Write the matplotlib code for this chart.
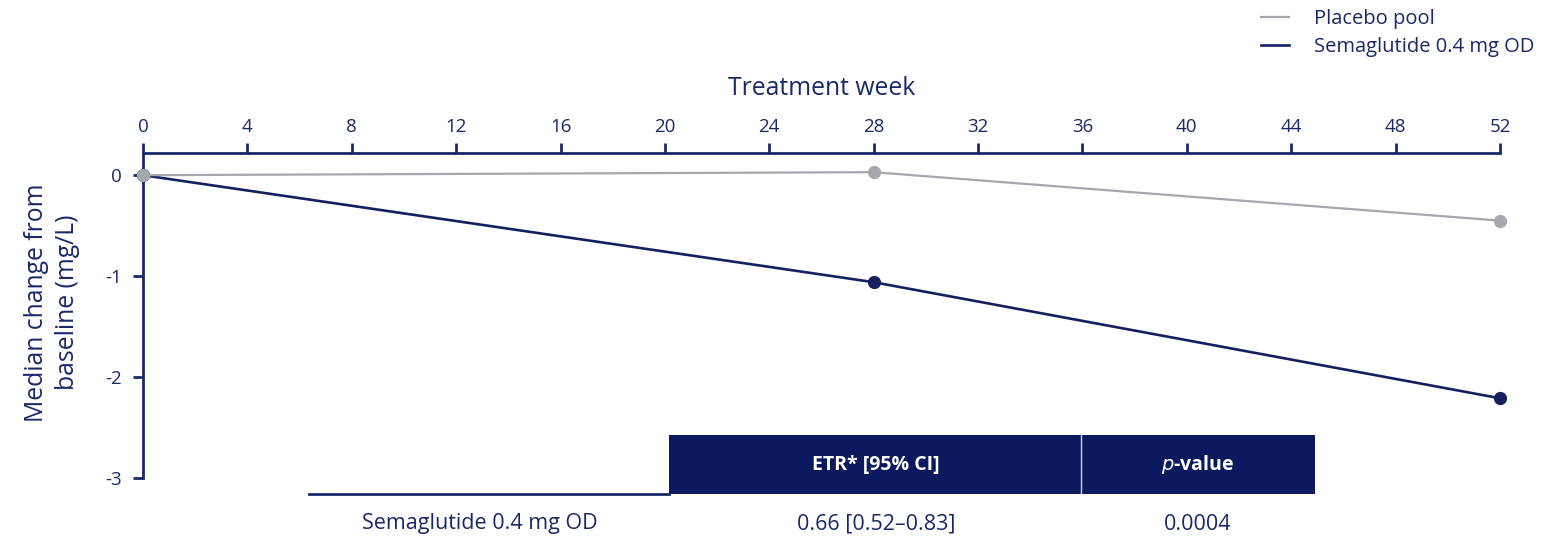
import matplotlib
matplotlib.use("Agg")
import matplotlib.pyplot as plt
from matplotlib.patches import Rectangle
from matplotlib.lines import Line2D

plt.rcParams['font.family'] = ['Open Sans', 'DejaVu Sans']

# Data
weeks = [0, 28, 52]
placebo = [0.0, 0.03, -0.45]
semaglutide = [0.0, -1.06, -2.21]
x_ticks = [0, 4, 8, 12, 16, 20, 24, 28, 32, 36, 40, 44, 48, 52]
y_ticks = [0, -1, -2, -3]
y_tick_labels = ["0", "-1", "-2", "-3"]
series_names = ["Placebo pool", "Semaglutide 0.4 mg OD"]
table_header = ["ETR* [95% CI]", "$\\it{p}$-value"]
table_row = ["Semaglutide 0.4 mg OD", "0.66 [0.52\u20130.83]", "0.0004"]

NAVY = "#1b2868"
LINE = "#14205e"
DARK = "#0b1a5e"
GREY = "#a4a7ac"

W, H = 1547, 552
fig = plt.figure(figsize=(W / 100, H / 100), dpi=100)
ax = fig.add_axes([143 / W, 1 - 478 / H, (1500 - 143) / W, (478 - 153) / H])

ax.plot(weeks, semaglutide, color=LINE, lw=1.9, marker="o", ms=8.5,
        clip_on=False, zorder=3)
ax.plot(weeks, placebo, color=GREY, lw=1.6, marker="o", ms=8.5,
        clip_on=False, zorder=4)

ax.set_xlim(0, 52)
ax.set_ylim(-3, 0.22)
ax.xaxis.tick_top()
ax.xaxis.set_label_position("top")
ax.set_xticks(x_ticks)
ax.set_yticks(y_ticks)
ax.set_yticklabels(y_tick_labels)
for s in ["right", "bottom"]:
    ax.spines[s].set_visible(False)
for s in ["top", "left"]:
    ax.spines[s].set_color(NAVY)
    ax.spines[s].set_linewidth(2.0)
ax.tick_params(axis="both", colors=NAVY, width=2.0, length=7,
               labelsize=13.5, labelcolor=NAVY)
ax.tick_params(axis="x", pad=5)
ax.tick_params(axis="y", pad=8)
ax.set_xlabel("Treatment week", fontsize=17.8, color=NAVY, labelpad=17)
ax.set_ylabel("Median change from\nbaseline (mg/L)", fontsize=17.8,
              color=NAVY, linespacing=1.3, va="center", ha="center")
ax.yaxis.set_label_coords(-0.067, 0.54)

# Legend
handles = [Line2D([], [], color=GREY, lw=1.6),
           Line2D([], [], color=LINE, lw=1.9)]
fig.legend(handles, series_names, loc="upper right",
           bbox_to_anchor=(1552 / W, 1 + 9 / H), frameon=False,
           fontsize=14.5, labelcolor=NAVY, handlelength=1.4,
           handletextpad=1.2, labelspacing=0.4)

# Summary table drawn in pixel space
ov = fig.add_axes([0, 0, 1, 1], zorder=5)
ov.set_xlim(0, W)
ov.set_ylim(H, 0)
ov.axis("off")
ov.add_patch(Rectangle((669, 435), 1315 - 669, 494 - 435, color=DARK, lw=0))
ov.plot([1081, 1081], [435, 494], color="white", lw=1.0, alpha=0.8)
ov.plot([309, 669], [494, 494], color=NAVY, lw=2.0)
ov.text(876, 465, table_header[0], color="white", fontsize=14,
        fontweight="bold", ha="center", va="center")
ov.text(1198, 465, table_header[1], color="white", fontsize=14,
        fontweight="bold", ha="center", va="center")
for xc, txt in zip([480, 876, 1198], table_row):
    ov.text(xc, 524, txt, color=NAVY, fontsize=15.5, ha="center", va="center")

fig.savefig("out.png", dpi=100, facecolor="white")
